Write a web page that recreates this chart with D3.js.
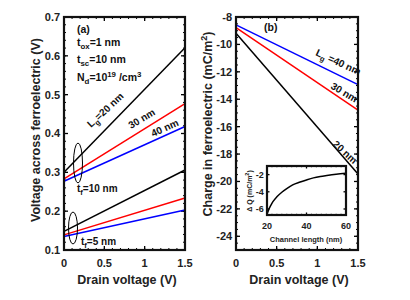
<!DOCTYPE html>
<html>
<head>
<meta charset="utf-8">
<script src="https://cdn.jsdelivr.net/npm/d3@7"></script>
<style>
  body { margin: 0; background: #fff; }
  svg text { font-family: "Liberation Sans", Arial, sans-serif; font-weight: bold; }
</style>
</head>
<body>
<div id="chart"></div>
<script>
// drain voltage end points (V)
var vd = [0, 1.5];

// (a) voltage across ferroelectric, tf = 10 nm
var tf10_20 = [0.300, 0.621];
var tf10_30 = [0.283, 0.477];
var tf10_40 = [0.277, 0.418];
// tf = 5 nm
var tf5_20 = [0.148, 0.306];
var tf5_30 = [0.139, 0.234];
var tf5_40 = [0.135, 0.203];

// (b) charge in ferroelectric (mC/m2)
var q20 = [-9.18, -19.45];
var q30 = [-8.77, -14.79];
var q40 = [-8.58, -12.93];

// inset: delta Q vs channel length
var lch = [20, 20.5, 21, 22, 23, 25, 27.5, 30, 33, 36.8, 40, 43.5, 47, 50.3, 55, 60];
var dq = [-6.6, -6.3, -6.0, -5.55, -5.15, -4.58, -4.05, -3.63, -3.2, -2.87, -2.62, -2.38, -2.22, -2.11, -1.97, -1.85];

var xTicks = [0, 0.5, 1, 1.5];
var yTicksA = [0.1, 0.2, 0.3, 0.4, 0.5, 0.6, 0.7];
var yTicksB = [-24, -22, -20, -18, -16, -14, -12, -10, -8];
var insetX = [20, 40, 60];
var insetY = [-6, -4, -2];

var svg = d3.select("#chart").append("svg")
  .attr("width", 410).attr("height", 300);

function frame(g, x, y, xt, yt, xMinor, yMinor, fs, fmtX, fmtY, len) {
  var x0 = x.range()[0], x1 = x.range()[1], y0 = y.range()[0], y1 = y.range()[1];
  // minor ticks
  xMinor.forEach(function(v) {
    g.append("line").attr("x1", x(v)).attr("x2", x(v)).attr("y1", y0).attr("y2", y0 - len/2).attr("stroke", "#000");
    g.append("line").attr("x1", x(v)).attr("x2", x(v)).attr("y1", y1).attr("y2", y1 + len/2).attr("stroke", "#000");
  });
  yMinor.forEach(function(v) {
    g.append("line").attr("y1", y(v)).attr("y2", y(v)).attr("x1", x0).attr("x2", x0 + len/2).attr("stroke", "#000");
    g.append("line").attr("y1", y(v)).attr("y2", y(v)).attr("x1", x1).attr("x2", x1 - len/2).attr("stroke", "#000");
  });
  xt.forEach(function(v) {
    g.append("line").attr("x1", x(v)).attr("x2", x(v)).attr("y1", y0).attr("y2", y0 - len).attr("stroke", "#000").attr("stroke-width", 1.3);
    g.append("line").attr("x1", x(v)).attr("x2", x(v)).attr("y1", y1).attr("y2", y1 + len).attr("stroke", "#000").attr("stroke-width", 1.3);
    g.append("text").attr("x", x(v)).attr("y", y0 + fs * 1.5).attr("text-anchor", "middle")
      .attr("font-size", fs).attr("fill", "#222").text(fmtX(v));
  });
  yt.forEach(function(v) {
    g.append("line").attr("y1", y(v)).attr("y2", y(v)).attr("x1", x0).attr("x2", x0 + len).attr("stroke", "#000").attr("stroke-width", 1.3);
    g.append("line").attr("y1", y(v)).attr("y2", y(v)).attr("x1", x1).attr("x2", x1 - len).attr("stroke", "#000").attr("stroke-width", 1.3);
    g.append("text").attr("x", x0 - fs * 0.35).attr("y", y(v)).attr("dy", "0.36em").attr("text-anchor", "end")
      .attr("font-size", fs).attr("fill", "#222").text(fmtY(v));
  });
}

function box(g, x, y, w) {
  g.append("rect")
    .attr("x", x.range()[0]).attr("y", y.range()[1])
    .attr("width", x.range()[1] - x.range()[0]).attr("height", y.range()[0] - y.range()[1])
    .attr("fill", "none").attr("stroke", "#111").attr("stroke-width", w);
}

function minorRange(a, b, step) {
  var out = [];
  var n = Math.round((b - a) / step);
  for (var i = 0; i <= n; i++) out.push(+(a + i * step).toFixed(4));
  return out;
}

// ---------- panel (a)
var xa = d3.scaleLinear().domain([0, 1.5]).range([64, 185]);
var ya = d3.scaleLinear().domain([0.1, 0.7]).range([250, 17]);
var ga = svg.append("g");
frame(ga, xa, ya, xTicks, yTicksA, minorRange(0, 1.5, 0.1), minorRange(0.1, 0.7, 0.02), 11,
  function(v) { return v === 0 ? "0" : v === 1 ? "1" : String(v); }, d3.format(".1f"), 4);

var line2 = function(x, y, ys) {
  return d3.line().x(function(d, i) { return x(vd[i]); }).y(function(d) { return y(d); })(ys);
};
[[tf10_20, "#000"], [tf10_30, "#f00"], [tf10_40, "#00f"],
 [tf5_20, "#000"], [tf5_30, "#f00"], [tf5_40, "#00f"]].forEach(function(s) {
  ga.append("path").attr("d", line2(xa, ya, s[0])).attr("fill", "none").attr("stroke", s[1]).attr("stroke-width", 1.5);
});
box(ga, xa, ya, 2.2);

// ellipses
ga.append("ellipse").attr("cx", 78).attr("cy", 163).attr("rx", 4.5).attr("ry", 20)
  .attr("fill", "none").attr("stroke", "#000").attr("stroke-width", 1);
ga.append("ellipse").attr("cx", 73).attr("cy", 228).attr("rx", 4.5).attr("ry", 16)
  .attr("fill", "none").attr("stroke", "#000").attr("stroke-width", 1);

function subText(g, x, y, fs, parts, rot) {
  var t = g.append("text").attr("x", x).attr("y", y).attr("font-size", fs).attr("fill", "#111");
  if (rot) t.attr("transform", "rotate(" + rot + "," + x + "," + y + ")");
  parts.forEach(function(p) {
    var ts = t.append("tspan").text(p[0]);
    if (p[1] === "sub") ts.attr("font-size", fs * 0.75).attr("dy", fs * 0.3);
    if (p[1] === "sup") ts.attr("font-size", fs * 0.75).attr("dy", -fs * 0.4);
    if (p[1] === "subup") ts.attr("dy", -fs * 0.3);
    if (p[1] === "supdown") ts.attr("dy", fs * 0.4);
  });
  return t;
}

subText(ga, 77, 33, 10.5, [["(a)"]]);
subText(ga, 77, 46, 10.5, [["t"], ["ox", "sub"], ["=1 nm", "subup"]]);
subText(ga, 77, 63, 10.5, [["t"], ["sc", "sub"], ["=10 nm", "subup"]]);
subText(ga, 77, 81, 10.5, [["N"], ["d", "sub"], ["=10", "subup"], ["19", "sup"], [" /cm", "supdown"], ["3", "sup"]]);
subText(ga, 91, 128, 10, [["L"], ["g", "sub"], ["=20 nm", "subup"]], -43);
subText(ga, 131, 129, 10, [["30 nm"]], -31);
subText(ga, 153, 137, 10, [["40 nm"]], -24);
subText(ga, 77, 192, 10, [["t"], ["f", "sub"], ["=10 nm", "subup"]]);
subText(ga, 81, 245, 10, [["t"], ["f", "sub"], ["=5 nm", "subup"]]);

svg.append("text").attr("x", 127).attr("y", 284).attr("text-anchor", "middle")
  .attr("font-size", 12.5).attr("fill", "#222").text("Drain voltage (V)");
svg.append("text").attr("transform", "translate(40,130) rotate(-90)").attr("text-anchor", "middle")
  .attr("font-size", 12.5).attr("fill", "#222").text("Voltage across ferroelectric (V)");

// ---------- panel (b)
var xb = d3.scaleLinear().domain([0, 1.5]).range([236, 358]);
var yb = d3.scaleLinear().domain([-25, -8]).range([250, 17]);
var gb = svg.append("g");
frame(gb, xb, yb, xTicks, yTicksB, minorRange(0, 1.5, 0.1), minorRange(-25, -8, 0.5), 11,
  function(v) { return v === 0 ? "0" : v === 1 ? "1" : String(v); }, function(v) { return String(v); }, 4);
[[q20, "#000"], [q30, "#f00"], [q40, "#00f"]].forEach(function(s) {
  gb.append("path").attr("d", line2(xb, yb, s[0])).attr("fill", "none").attr("stroke", s[1]).attr("stroke-width", 1.5);
});
box(gb, xb, yb, 2.2);

subText(gb, 264, 31, 10.5, [["(b)"]]);
subText(gb, 315, 55, 10, [["L"], ["g", "sub"], [" =40 nm", "subup"]], 25);
subText(gb, 330, 88, 10, [["30 nm"]], 31);
subText(gb, 332, 145, 10, [["20 nm"]], 42);

svg.append("text").attr("x", 299).attr("y", 284).attr("text-anchor", "middle")
  .attr("font-size", 12.5).attr("fill", "#222").text("Drain voltage (V)");
var yl = svg.append("text").attr("transform", "translate(212,124) rotate(-90)").attr("text-anchor", "middle")
  .attr("font-size", 12.5).attr("fill", "#222");
yl.append("tspan").text("Charge in ferroelectric (mC/m");
yl.append("tspan").attr("font-size", 9).attr("dy", -5).text("2");
yl.append("tspan").attr("dy", 5).text(")");

// ---------- inset
var xi = d3.scaleLinear().domain([20, 60]).range([267, 346]);
var yi = d3.scaleLinear().domain([-6.7, -1]).range([215, 166]);
var gi = svg.append("g");
gi.append("rect").attr("x", 267).attr("y", 166).attr("width", 79).attr("height", 49).attr("fill", "#fff");
frame(gi, xi, yi, insetX, insetY, minorRange(20, 60, 2.5), [], 9,
  function(v) { return String(v); }, function(v) { return String(v); }, 2.5);
gi.append("path").datum(lch.map(function(l, i) { return [l, dq[i]]; }))
  .attr("d", d3.line().curve(d3.curveMonotoneX).x(function(d) { return xi(d[0]); }).y(function(d) { return yi(d[1]); }))
  .attr("fill", "none").attr("stroke", "#000").attr("stroke-width", 1.5);
box(gi, xi, yi, 2.2);
svg.append("text").attr("x", 306).attr("y", 242).attr("text-anchor", "middle")
  .attr("font-size", 7.5).attr("fill", "#222").text("Channel length (nm)");
var il = svg.append("text").attr("transform", "translate(252,191) rotate(-90)").attr("text-anchor", "middle")
  .attr("font-size", 7).attr("fill", "#222");
il.append("tspan").text("\u0394 Q (mC/m");
il.append("tspan").attr("font-size", 5.5).attr("dy", -3).text("2");
il.append("tspan").attr("dy", 3).text(")");
</script>
</body>
</html>
